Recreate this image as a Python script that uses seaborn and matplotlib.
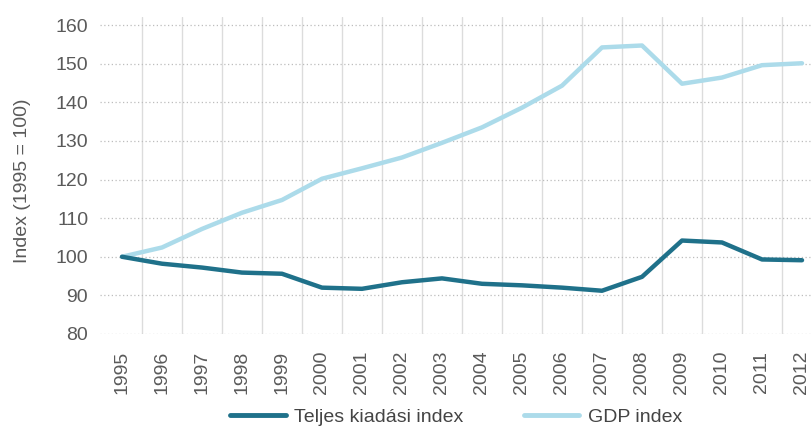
import numpy as np
import pandas as pd
import matplotlib
matplotlib.use("Agg")
import matplotlib.pyplot as plt
import seaborn as sns

# index values (1995 = 100)
years = list(range(1995, 2013))
teljes_kiadasi = [100, 98.2, 97.2, 95.9, 95.6, 92.0, 91.7, 93.4, 94.4, 93.0,
                  92.6, 92.0, 91.2, 94.8, 104.2, 103.7, 99.3, 99.1]
gdp = [100, 102.4, 107.2, 111.4, 114.7, 120.2, 122.9, 125.7, 129.5, 133.5,
       138.6, 144.3, 154.2, 154.7, 144.8, 146.4, 149.6, 150.1]
series_names = ["Teljes kiadási index", "GDP index"]
colors = ["#1f718a", "#acdbea"]

df = pd.DataFrame({
    "pos": list(range(len(years))) * 2,
    "value": teljes_kiadasi + gdp,
    "series": [series_names[0]] * len(years) + [series_names[1]] * len(years),
})

sns.set_style("white")
plt.rcParams["font.family"] = ["Liberation Sans", "DejaVu Sans"]
fs = 14

fig = plt.figure(figsize=(8.12, 4.37), dpi=100)
ax = fig.add_axes([100 / 812, 103 / 437, 712 / 812, 316.7 / 437])

# GDP drawn first so the darker line sits on top
sns.lineplot(data=df, x="pos", y="value", hue="series", hue_order=series_names[::-1],
             palette=colors[::-1], linewidth=3.2, ax=ax, legend=False,
             solid_capstyle="round")

ax.set_xlim(-0.55, 17.25)
ax.set_ylim(80, 162)
ax.set_yticks(range(80, 161, 10))
ax.set_xticks(range(len(years)))
ax.set_xticklabels([str(y) for y in years], rotation=90)
ax.set_xticks(np.arange(0.5, len(years) - 1, 1), minor=True)

ax.grid(axis="y", which="major", linestyle=(0, (1, 2)), color="#bdbdbd", linewidth=0.9)
ax.grid(axis="x", which="minor", linestyle="-", color="#dcdcdc", linewidth=1.0)
ax.grid(axis="x", which="major", visible=False)
ax.tick_params(axis="x", which="minor", length=7, color="#dcdcdc", width=1.0)
ax.tick_params(axis="x", which="major", length=0, pad=12, labelsize=fs, labelcolor="#5a5a5a")
ax.tick_params(axis="y", length=0, pad=8.5, labelsize=fs, labelcolor="#5a5a5a")
for s in ax.spines.values():
    s.set_visible(False)

ax.set_xlabel("")
ax.set_ylabel("Index (1995 = 100)", fontsize=fs, color="#5a5a5a")
ax.yaxis.set_label_coords(-0.097, 0.485)
ax.set_axisbelow(True)

handles = [plt.Line2D([], [], color=c, linewidth=3.5) for c in colors]
fig.legend(handles, series_names, loc="lower center", bbox_to_anchor=(0.562, -0.014),
           ncol=2, frameon=False, fontsize=fs, handlelength=2.85, handletextpad=0.45,
           columnspacing=3.1, labelcolor="#444444")

fig.savefig("out.png", dpi=100)
